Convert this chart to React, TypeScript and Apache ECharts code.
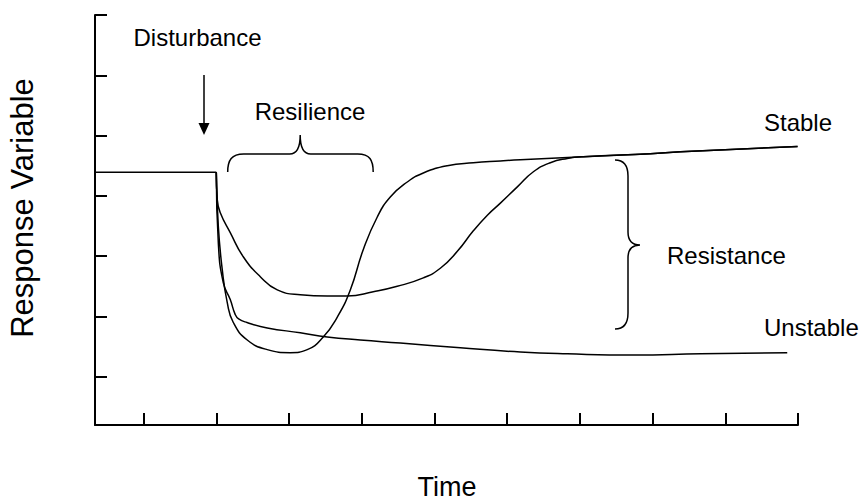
import React, { useEffect, useRef } from "react";
import * as echarts from "echarts";

// Axis extents (data units) and tick positions
const xAxisMin = -0.668;
const xAxisMax = 9;
const yAxisMin = -0.8;
const yAxisMax = 6;
const xTickValues = [0, 1, 2, 3, 4, 5, 6, 7, 8, 9];
const yTickValues = [0, 1, 2, 3, 4, 5, 6];

// Pre-disturbance state
const disturbanceTime = 1.0;
const baselineLevel = 3.39;

// Stable system: deep drop, fast recovery
const stableCurve: [number, number][] = [
  [1.0, 3.39], [1.028, 2.49], [1.083, 1.77], [1.151, 1.23], [1.234, 0.9],
  [1.426, 0.61], [1.701, 0.45], [2.017, 0.4], [2.251, 0.45], [2.471, 0.66],
  [2.664, 0.99], [2.843, 1.44], [3.022, 2.11], [3.214, 2.65], [3.393, 2.98],
  [3.627, 3.23], [3.847, 3.38], [4.177, 3.5], [4.535, 3.55], [4.907, 3.58],
  [5.182, 3.6], [6.048, 3.65], [6.97, 3.7], [7.385, 3.73], [8.994, 3.82],
];

// Resistant system: shallower drop, slow recovery
const resistantCurve: [number, number][] = [
  [1.0, 3.39], [1.014, 2.93], [1.055, 2.72], [1.192, 2.39], [1.371, 1.99],
  [1.605, 1.66], [1.839, 1.44], [2.155, 1.36], [2.526, 1.34], [2.801, 1.34],
  [3.159, 1.41], [3.489, 1.5], [3.847, 1.64], [4.081, 1.8], [4.315, 2.08],
  [4.535, 2.42], [4.728, 2.68], [4.907, 2.88], [5.14, 3.15], [5.361, 3.4],
  [5.594, 3.55], [5.827, 3.62], [6.048, 3.65], [6.97, 3.7], [7.385, 3.73],
  [8.994, 3.82],
];

// Unstable system: no recovery
const unstableCurve: [number, number][] = [
  [1.0, 3.39], [1.028, 2.22], [1.096, 1.56], [1.192, 1.28], [1.261, 1.03],
  [1.307, 0.96], [1.422, 0.9], [1.701, 0.81], [2.155, 0.73], [2.526, 0.66],
  [2.98, 0.61], [3.531, 0.56], [4.356, 0.48], [5.182, 0.41], [5.827, 0.38],
  [6.735, 0.36], [7.659, 0.38], [8.852, 0.4],
];

const xAxisTitle = "Time";
const yAxisTitle = "Response Variable";
const annotationTexts = ["Disturbance", "Resilience", "Resistance", "Stable", "Unstable"];

const FONT = '"Liberation Sans", Arial, Helvetica, sans-serif';

export default function App() {
  const ref = useRef<HTMLDivElement>(null);

  useEffect(() => {
    if (!ref.current) return;
    echarts.graphic.registerShape(
      "braceH",
      echarts.graphic.extendPath(
        "M0 37 C0 25 4 19 16 19 L62 19 C68 19 72.5 14 72.5 0 C72.5 14 77 19 83 19 L130 19 C142 19 145.5 25 145.5 37",
        {}
      )
    );
    echarts.graphic.registerShape(
      "braceV",
      echarts.graphic.extendPath(
        "M0 0 C9 0 13 5 13 16 L13 72 C13 80 17 85 25 85 C17 85 13 90 13 98 L13 153 C13 164 9 169 0 169",
        {}
      )
    );

    const chart = echarts.init(ref.current, null, { renderer: "svg" });

    const lineSeries = (data: [number, number][], smooth: number | boolean) => ({
      type: "line",
      data,
      showSymbol: false,
      symbol: "none",
      smooth,
      lineStyle: { color: "#000", width: 1.5 },
      silent: true,
      z: 3,
    });

    const txt = (text: string, x: number, y: number, size: number, align: string, rotation = 0) => ({
      type: "text",
      x,
      y,
      rotation,
      style: {
        text,
        fill: "#000",
        font: `${size}px ${FONT}`,
        textAlign: align,
        textVerticalAlign: "middle",
        align,
        verticalAlign: "middle",
      },
      z: 10,
    });

    const axisCommon = {
      axisLine: { show: true, onZero: false, lineStyle: { color: "#000", width: 2 } },
      axisLabel: { show: false },
      splitLine: { show: false },
    };

    chart.setOption({
      animation: false,
      backgroundColor: "#fff",
      grid: { left: 95, right: 63, top: 15, bottom: 78, containLabel: false },
      xAxis: {
        type: "value",
        min: xAxisMin,
        max: xAxisMax,
        ...axisCommon,
        axisTick: {
          show: true,
          inside: true,
          length: 12,
          customValues: xTickValues,
          lineStyle: { color: "#000", width: 2 },
        },
      },
      yAxis: {
        type: "value",
        min: yAxisMin,
        max: yAxisMax,
        ...axisCommon,
        axisTick: {
          show: true,
          inside: true,
          length: 12,
          customValues: yTickValues,
          lineStyle: { color: "#000", width: 2 },
        },
      },
      series: [
        {
          ...lineSeries(
            [
              [xAxisMin, baselineLevel],
              [disturbanceTime, baselineLevel],
            ],
            false
          ),
        },
        lineSeries(stableCurve, 0.5),
        lineSeries(resistantCurve, 0.5),
        lineSeries(unstableCurve, 0.5),
      ],
      graphic: [
        txt(annotationTexts[0], 197.5, 37.5, 24, "center"),
        {
          type: "line",
          shape: { x1: 204, y1: 75, x2: 204, y2: 124 },
          style: { stroke: "#000", lineWidth: 1.5 },
        },
        {
          type: "polygon",
          shape: { points: [[198.5, 123], [209.5, 123], [204, 135]] },
          style: { fill: "#000" },
        },
        txt(annotationTexts[1], 310, 111, 24, "center"),
        {
          type: "braceH",
          x: 227.7,
          y: 135,
          style: { stroke: "#000", fill: "none", lineWidth: 1.5 },
        },
        {
          type: "braceV",
          x: 615,
          y: 160,
          style: { stroke: "#000", fill: "none", lineWidth: 1.5 },
        },
        txt(annotationTexts[2], 667, 255, 24, "left"),
        txt(annotationTexts[3], 798, 122.8, 24, "center"),
        txt(annotationTexts[4], 764, 327.5, 24, "left"),
        txt(xAxisTitle, 447, 487, 27, "center"),
        txt(yAxisTitle, 22.3, 208, 31, "center", Math.PI / 2),
      ],
    });

    return () => chart.dispose();
  }, []);

  return (
    <div
      ref={ref}
      style={{ position: "fixed", left: 0, top: 0, width: 861, height: 503, background: "#fff" }}
    />
  );
}
